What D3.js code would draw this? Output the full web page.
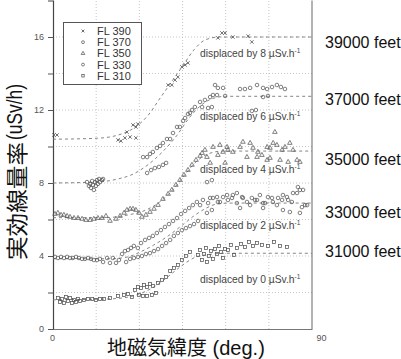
<!DOCTYPE html>
<html><head><meta charset="utf-8">
<script src="https://cdn.jsdelivr.net/npm/d3@7"></script>
<style>body{margin:0;background:#fff}svg{display:block}</style>
</head><body><svg id="c" width="401" height="359"></svg>
<script>
// ---------- data ----------
const seriesNames = ["FL 390","FL 370","FL 350","FL 330","FL 310"];
const altitudeLabels = ["39000 feet","37000 feet","35000 feet","33000 feet","31000 feet"];
const displacements = [8,6,4,2,0];
const yTickValues = [0,2,4,6,8,10,12,14,16];
const yTickLabels = [0,4,8,12,16];
const xTickLabels = [0,90];
const xGrid = [15,30,45,60,75];
const altitudeLabelAt = [15.7,12.6,9.3,6.4,4.3];
const displacedLabelAt = [14.9,11.45,8.55,5.48,2.52];

const fl390 = [[0.3,10.63],[1.4,10.63],[22.6,10.36],[23.6,10.30],[25.0,10.47],[25.7,10.79],[26.8,10.52],
 [27.8,11.18],[28.8,11.07],[29.5,11.23],[28.8,10.47],[40.0,13.37],[41.3,13.37],[42.4,13.64],[43.4,13.81],
 [44.8,14.36],[45.9,14.47],[46.9,14.58],[57.3,15.95],[58.7,16.22],[59.8,16.22],[62.5,16.0],[67.8,16.05],[69.1,15.73]];

const fl370 = [[11.8,8.05],[12.5,7.84],[12.9,7.95],[13.2,7.73],[13.6,8.11],[13.9,7.89],[14.2,7.62],[14.6,8.05],
 [14.9,7.84],[15.3,8.16],[15.6,7.95],[16.0,8.22],[16.3,8.05],[17.0,8.16],[17.4,8.22],
 [32.7,8.55],[34.1,8.71],[35.4,8.82],[36.8,8.88],[38.2,8.99],[39.3,9.10],
 [31.3,9.42],[32.7,9.42],[33.7,9.59],[34.7,9.70],[36.1,9.92],[37.2,10.03],[38.2,10.19],[39.6,10.41],[40.7,10.41],
 [41.7,10.74],[43.1,11.07],[44.1,11.07],[45.2,11.40],[45.9,11.56],[46.9,11.78],[48.3,12.0],
 [47.6,11.84],[49.3,12.16],[51.1,12.44],[51.8,12.16],[52.8,12.55],[53.9,12.11],[55.2,12.16],[54.6,12.71],
 [55.6,12.82],[57.0,12.82],[56.3,13.37],[57.3,13.21],[59.1,13.21],[59.8,12.77],[65.0,13.15],[66.7,13.15],
 [68.5,13.21],[70.9,13.37],[73.0,13.21],[74.4,13.15],[76.1,13.26],[77.8,13.37],[79.2,13.26],[80.6,13.15],
 [73.0,12.71],[74.7,12.77],[69.1,11.95],[70.5,12.0]];

const fl350 = [[0.7,6.30],[1.7,6.36],[2.8,6.25],[3.8,6.25],[4.9,6.19],[5.9,6.14],[7.3,6.08],[8.7,6.08],[10.1,6.03],
 [11.5,5.97],[12.9,5.97],[14.2,6.03],[15.6,6.08],[17.0,6.08],[18.4,6.19],[19.8,5.92],[21.9,6.03],[23.3,6.19],
 [24.7,6.36],[25.7,6.52],[26.8,6.58],[27.8,6.58],[28.8,6.52],[29.9,6.36],[30.9,6.14],[32.3,6.25],[33.7,6.41],
 [35.1,6.58],[36.5,6.79],[38.2,7.12],[40.0,7.40],[41.3,7.62],[42.7,7.89],[44.1,8.16],[45.5,8.44],[46.9,8.71],
 [48.3,8.99],[49.7,9.26],[51.1,9.48],[51.8,9.64],[52.8,9.81],[53.5,9.42],[54.6,9.10],[55.6,9.97],[57.3,9.53],
 [58.0,10.08],[59.1,9.70],[60.5,9.97],[60.8,9.81],[62.5,9.70],[59.8,9.10],[65.0,9.97],[66.0,10.25],[67.4,9.42],
 [68.5,10.19],[69.5,9.92],[70.9,9.42],[71.2,9.70],[72.6,9.53],[74.4,9.97],[74.4,9.26],[75.4,9.92],[75.4,9.37],
 [76.5,10.19],[77.1,10.79],[77.8,10.08],[78.9,9.26],[79.6,9.81],[80.6,9.97],[81.7,9.15],[82.3,10.19],[83.4,9.81],
 [84.8,9.26],[85.8,9.15]];

const fl330 = [[0.7,3.95],[1.7,3.89],[2.8,3.95],[3.8,3.89],[4.9,3.95],[5.9,3.89],[6.9,3.89],[8.0,3.95],[9.0,3.89],
 [10.1,3.84],[11.1,3.84],[12.2,3.89],[13.2,3.84],[14.2,3.78],[15.3,3.78],[16.3,3.84],[17.4,3.67],[18.8,3.89],
 [19.8,3.62],[20.8,3.89],[21.9,3.62],[22.9,3.78],
 [24.0,4.11],[25.0,4.27],[26.1,4.33],[27.1,4.44],[28.1,4.55],[29.5,4.44],[30.6,4.71],[32.0,4.88],[33.4,4.99],
 [34.7,5.10],[36.1,5.26],[37.5,5.42],[38.9,5.59],[40.3,5.75],[41.7,5.92],[43.1,6.08],[44.5,6.30],[45.9,6.47],
 [47.3,6.63],[48.6,6.79],[50.0,6.96],
 [25.4,3.67],[26.8,3.84],[28.1,3.89],[29.5,3.95],[30.9,4.0],[32.3,4.11],[33.7,4.16],[35.1,4.27],[36.5,4.38],
 [37.9,4.55],[39.3,4.71],[40.7,4.88],[42.0,5.10],[43.4,5.26],[44.8,5.42],[46.2,5.53],[47.6,5.64],[49.0,5.75],[50.4,5.92],
 [51.1,6.79],[52.1,7.07],[53.5,6.36],[53.9,6.90],[54.6,7.18],[55.2,6.52],[55.6,7.18],[57.0,7.23],[57.3,6.96],
 [58.0,6.96],[59.1,7.23],[60.5,7.34],[60.8,7.07],[62.2,7.18],[62.5,7.34],[63.9,7.45],[63.9,6.90],[65.0,6.63],
 [65.7,7.23],[66.0,7.18],[67.4,6.96],[68.5,6.79],[69.1,7.18],[70.2,7.07],[70.9,7.07],[71.9,7.34],[73.0,6.63],
 [73.0,6.90],[73.7,6.90],[74.7,7.23],[76.1,7.18],[76.4,6.96],[77.8,6.79],[78.2,7.18],[79.6,7.07],[79.9,6.52],
 [79.9,7.34],[81.3,7.23],[81.7,7.07],[82.3,6.41],[83.0,6.96],[83.4,7.45],[84.8,7.45],[85.1,7.78],[85.8,7.62],
 [85.8,6.36],[86.5,6.68],[86.9,7.62],[87.6,6.79],[88.3,6.79],[53.5,8.05],[55.2,8.16]];

const fl310 = [[1.7,1.70],[2.4,1.48],[3.1,1.64],[3.8,1.42],[4.5,1.75],[5.2,1.53],[5.9,1.70],[6.6,1.42],[7.3,1.59],
 [8.0,1.48],[8.7,1.64],[9.4,1.53],[10.8,1.59],[12.2,1.64],[13.6,1.64],[14.9,1.59],[16.3,1.64],[17.7,1.64],
 [19.8,1.70],[22.6,1.81],[24.7,1.86],[26.1,1.92],[27.4,1.75],[28.5,2.14],[29.5,2.30],[30.6,2.25],[31.6,2.41],
 [32.7,2.30],[33.7,2.47],[34.7,2.36],[29.9,1.86],[31.3,1.81],[32.7,1.81],[34.4,1.86],[35.8,1.97],[36.5,2.52],
 [37.9,2.68],[39.3,2.85],[40.7,3.18],[42.0,3.34],[43.4,3.51],[44.8,3.78],[46.2,4.0],[47.6,4.22],
 [50.4,4.05],[51.1,4.33],[51.8,3.78],[52.5,4.11],[53.2,4.44],[53.5,3.67],[54.2,4.0],[54.9,4.27],[55.6,3.84],
 [56.3,4.38],[57.0,4.11],[57.7,4.55],[58.4,4.22],[59.1,3.89],[59.8,4.38],[60.8,4.33],[61.8,4.60],[62.9,4.05],
 [63.9,4.44],[65.3,4.66],[66.7,4.49],[68.1,4.77],[69.5,4.55],[70.9,4.71],[72.6,4.60],[74.7,4.55],[76.8,4.77],
 [78.9,4.55],[81.3,4.49]];

// fitted (dashed) curves
const fit390 = [[0,10.4],[15,10.45],[22,10.6],[28,11.0],[33,11.7],[37,12.6],[41,13.5],[45,14.4],[49,15.3],[53,15.85],[58,16.0],[90,16.0]];
const fit370 = [[0,8.0],[15,8.05],[22,8.2],[28,8.5],[33,9.0],[38,9.7],[43,10.6],[47,11.5],[51,12.2],[55,12.6],[60,12.75],[90,12.75]];
const fit350 = [[0,6.1],[18,6.1],[26,6.25],[32,6.5],[37,6.95],[42,7.7],[46,8.5],[50,9.2],[54,9.6],[59,9.75],[90,9.75]];
const fit330 = [[0,3.85],[20,3.85],[26,3.95],[30,4.2],[35,4.6],[40,5.1],[45,5.7],[49,6.2],[53,6.6],[57,6.85],[62,6.9],[90,6.9]];
const fit310 = [[0,1.6],[20,1.65],[27,1.78],[32,2.05],[37,2.5],[41,3.0],[45,3.5],[49,3.9],[54,4.08],[60,4.15],[90,4.15]];

const series = [fl390, fl370, fl350, fl330, fl310];
const fits = [fit390, fit370, fit350, fit330, fit310];
const symbols = ["cross","circle","triangle","circle","square"];

// ---------- drawing ----------
const svg = d3.select("#c");
const x = d3.scaleLinear().domain([0,90]).range([53,312]);
const y = d3.scaleLinear().domain([0,18]).range([329,0.5]);
const markColor = "#555";

// grid
const grid = svg.append("g").attr("stroke","#b8b8b8").attr("stroke-width",0.8).attr("stroke-dasharray","1,2");
grid.selectAll("line.h").data(yTickValues.filter(v=>v>0)).join("line")
  .attr("x1",x(0)).attr("x2",x(90)).attr("y1",d=>y(d)).attr("y2",d=>y(d));
grid.selectAll("line.v").data(xGrid).join("line").attr("class","v")
  .attr("x1",d=>x(d)).attr("x2",d=>x(d)).attr("y1",y(0)).attr("y2",y(18));

// y axis
const yAxis = d3.axisLeft(y).tickValues(yTickValues).tickSize(5)
  .tickFormat(d=>yTickLabels.includes(d)?d:"");
const gy = svg.append("g").attr("transform",`translate(${x(0)},0)`).call(yAxis);
gy.select(".domain").attr("stroke","#444").attr("stroke-width",1.2);
gy.selectAll(".tick line").attr("stroke","#555");
gy.selectAll(".tick text").attr("fill","#555").attr("font-size",9).attr("font-family","Liberation Sans, Arial, sans-serif").attr("dx",-1);

// x axis
const xAxis = d3.axisBottom(x).tickValues(xTickLabels).tickSize(0).tickPadding(6);
const gx = svg.append("g").attr("transform",`translate(0,${y(0)})`).call(xAxis);
gx.select(".domain").attr("stroke","#777").attr("stroke-width",1);
gx.selectAll(".tick text").attr("fill","#555").attr("font-size",9).attr("font-family","Liberation Sans, Arial, sans-serif")
  .attr("dx",d=>d===90?9:-1);

// right frame
svg.append("line").attr("x1",x(90)).attr("x2",x(90)).attr("y1",y(18)).attr("y2",y(0))
  .attr("stroke","#666").attr("stroke-width",1);

// fitted dashed curves
const line = d3.line().x(d=>x(d[0])).y(d=>y(d[1])).curve(d3.curveMonotoneX);
svg.append("g").selectAll("path").data(fits).join("path")
  .attr("d",line).attr("fill","none").attr("stroke","#777").attr("stroke-width",0.9).attr("stroke-dasharray","3,3");

// markers
function drawMark(sel, kind, s){
  if(kind==="circle"){
    sel.append("circle").attr("r",1.8*s).attr("fill","none").attr("stroke",markColor).attr("stroke-width",0.75);
  } else if(kind==="cross"){
    const r=1.7*s;
    sel.append("path").attr("d",`M${-r},${-r}L${r},${r}M${-r},${r}L${r},${-r}`).attr("stroke",markColor).attr("stroke-width",0.85);
  } else if(kind==="triangle"){
    sel.append("path").attr("d",d3.symbol(d3.symbolTriangle,9*s*s)()).attr("fill","none").attr("stroke",markColor).attr("stroke-width",0.75);
  } else {
    const r=1.5*s;
    sel.append("rect").attr("x",-r).attr("y",-r).attr("width",2*r).attr("height",2*r)
      .attr("fill","none").attr("stroke",markColor).attr("stroke-width",0.75);
  }
}
series.forEach((data,i)=>{
  const g = svg.append("g");
  g.selectAll("g").data(data).join("g")
    .attr("transform",d=>`translate(${x(d[0])},${y(d[1])})`)
    .each(function(){ drawMark(d3.select(this), symbols[i], 1); });
});

// displaced labels
const dl = svg.append("g").attr("font-family","Liberation Sans, Arial, sans-serif").attr("font-size",10.3).attr("fill","#444");
displacements.forEach((v,i)=>{
  const t = dl.append("text").attr("x",x(51.1)).attr("y",y(displacedLabelAt[i]));
  t.append("tspan").text(`displaced by ${v} \u00b5Sv.h`);
  t.append("tspan").attr("dy",-4).attr("font-size",6.5).text("-1");
});

// legend
const lg = svg.append("g");
lg.append("rect").attr("x",63.5).attr("y",22.5).attr("width",78).attr("height",62)
  .attr("fill","#fff").attr("stroke","#555").attr("stroke-width",1);
seriesNames.forEach((n,i)=>{
  const gy0 = 31 + i*11.2;
  const m = lg.append("g").attr("transform",`translate(83,${gy0})`);
  drawMark(m, symbols[i], 0.8);
  lg.append("text").attr("x",97).attr("y",gy0+4).text(n)
    .attr("font-family","Liberation Sans, Arial, sans-serif").attr("font-size",11).attr("fill","#333");
});

// altitude labels on right
svg.append("g").selectAll("text").data(altitudeLabels).join("text")
  .attr("x",325).attr("y",(d,i)=>y(altitudeLabelAt[i])+6)
  .attr("font-family","Liberation Sans, Arial, sans-serif").attr("font-size",16).attr("fill","#111")
  .text(d=>d);

// axis titles
svg.append("text").attr("x",107).attr("y",355)
  .attr("font-family","Liberation Sans, Arial, 'Noto Sans CJK JP', sans-serif").attr("font-size",20).attr("fill","#111")
  .text("地磁気緯度 (deg.)");
svg.append("text").attr("transform","translate(25,260) rotate(-90)")
  .attr("font-family","'Noto Sans CJK JP', sans-serif").attr("font-size",22).attr("fill","#111")
  .attr("textLength",118).attr("lengthAdjust","spacingAndGlyphs")
  .text("実効線量率");
svg.append("text").attr("transform","translate(22,140) rotate(-90)")
  .attr("font-family","Liberation Sans, Arial, sans-serif").attr("font-size",22).attr("fill","#111")
  .attr("textLength",56).attr("lengthAdjust","spacingAndGlyphs")
  .text("(uSv/h)");
</script></body></html>
